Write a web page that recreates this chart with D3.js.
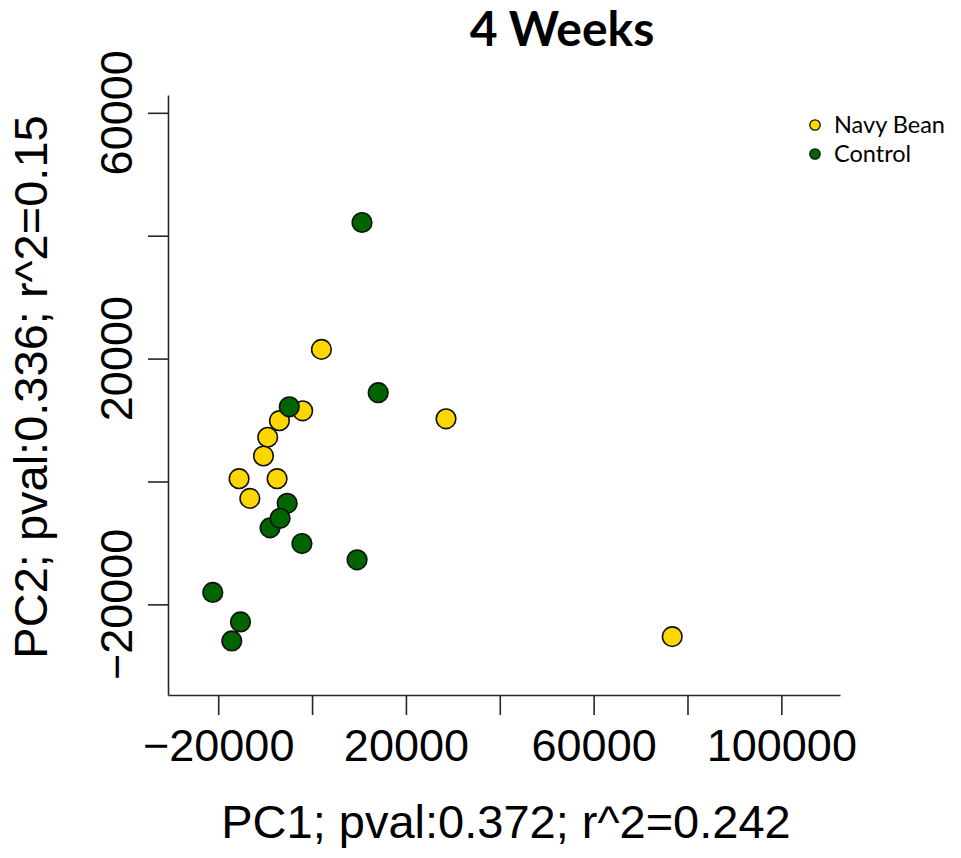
<!DOCTYPE html>
<html>
<head>
<meta charset="utf-8">
<script src="https://cdn.jsdelivr.net/npm/d3@7"></script>
<style>
  html, body { margin: 0; padding: 0; background: #ffffff; }
  svg { display: block; }
</style>
</head>
<body>
<div id="chart"></div>
<script>
// PCA scores at 4 weeks, one entry per sample
const navyBeanPC1 = [2000, -2000, -6950, -9450, -10350, -15550, -7450, -13250, 28550, 76750];
const navyBeanPC2 = [21500, 11500, 9900, 7200, 4150, 450, 450, -2750, 10200, -25250];

const controlPC1 = [10650, 14100, -4850, -5300, -8950, -6800, -2150, 9600, -21150, -15250, -17100];
const controlPC2 = [42150, 14450, 12150, -3550, -7550, -6000, -10100, -12750, -18050, -22850, -25950];

const groups = ["Navy Bean", "Control"];
const groupColors = ["#FFD700", "#006400"];

const xTicks = [-20000, 0, 20000, 40000, 60000, 80000, 100000];
const xTickLabels = [-20000, 20000, 60000, 100000];
const yTicks = [-20000, 0, 20000, 40000, 60000];
const yTickLabels = [-20000, 20000, 60000];

const chartTitle = "4 Weeks";
const xTitle = "PC1; pval:0.372; r^2=0.242";
const yTitle = "PC2; pval:0.336; r^2=0.15";

const width = 961, height = 858;
const plot = { left: 168, right: 840, top: 95, bottom: 695 };

const svg = d3.select("#chart").append("svg")
  .attr("width", width).attr("height", height);

const x = d3.scaleLinear().domain([-30700, 112500]).range([plot.left, plot.right]);
const y = d3.scaleLinear().domain([-34750, 62900]).range([plot.bottom, plot.top]);

const fmt = v => (v < 0 ? "\u2212" : "") + Math.abs(v);
const axisFont = "'Liberation Sans', Arial, sans-serif";
const axisColor = "#262626";

// bottom axis
const gx = svg.append("g")
  .attr("transform", `translate(0,${plot.bottom})`)
  .call(d3.axisBottom(x).tickValues(xTicks).tickSize(20).tickSizeOuter(0)
    .tickPadding(14)
    .tickFormat(d => xTickLabels.includes(d) ? fmt(d) : ""));
gx.selectAll("path, line").attr("stroke", axisColor).attr("stroke-width", 1.6);
gx.selectAll("text").attr("font-family", axisFont).attr("font-size", 45).attr("fill", "#000");

// left axis, labels drawn rotated
const gy = svg.append("g")
  .attr("transform", `translate(${plot.left},0)`)
  .call(d3.axisLeft(y).tickValues(yTicks).tickSize(20).tickSizeOuter(0).tickFormat(""));
gy.selectAll("path, line").attr("stroke", axisColor).attr("stroke-width", 1.6);

svg.append("g").selectAll("text")
  .data(yTickLabels)
  .join("text")
  .attr("transform", d => `translate(132,${y(d)}) rotate(-90)`)
  .attr("text-anchor", "middle")
  .attr("font-family", axisFont).attr("font-size", 45)
  .text(fmt);

// axis titles
svg.append("text")
  .attr("x", 506).attr("y", 838)
  .attr("text-anchor", "middle")
  .attr("font-family", axisFont).attr("font-size", 47)
  .text(xTitle);

svg.append("text")
  .attr("transform", `translate(47,${(plot.top + plot.bottom) / 2 - 8}) rotate(-90)`)
  .attr("text-anchor", "middle")
  .attr("font-family", axisFont).attr("font-size", 47)
  .text(yTitle);

// chart title
svg.append("text")
  .attr("x", 562).attr("y", 46)
  .attr("text-anchor", "middle")
  .attr("font-family", "Lato, 'Open Sans', sans-serif")
  .attr("font-weight", 700).attr("font-size", 48)
  .text(chartTitle);

// points
const navyPts = navyBeanPC1.map((v, i) => ({ pc1: v, pc2: navyBeanPC2[i], g: 0 }));
const controlPts = controlPC1.map((v, i) => ({ pc1: v, pc2: controlPC2[i], g: 1 }));

svg.append("g").selectAll("circle")
  .data(navyPts.concat(controlPts))
  .join("circle")
  .attr("cx", d => x(d.pc1))
  .attr("cy", d => y(d.pc2))
  .attr("r", 9.8)
  .attr("fill", d => groupColors[d.g])
  .attr("stroke", "#111")
  .attr("stroke-width", 1.6);

// legend
const legend = svg.append("g").attr("transform", "translate(815,125)");
const items = legend.selectAll("g").data(groups).join("g")
  .attr("transform", (d, i) => `translate(0,${i * 29})`);
items.append("circle")
  .attr("r", 5.2)
  .attr("fill", (d, i) => groupColors[i])
  .attr("stroke", "#111").attr("stroke-width", 1.3);
items.append("text")
  .attr("x", 19).attr("y", 0).attr("dy", "0.35em")
  .attr("font-family", "Lato, 'Open Sans', sans-serif")
  .attr("font-size", 23.5)
  .text(d => d);
</script>
</body>
</html>
